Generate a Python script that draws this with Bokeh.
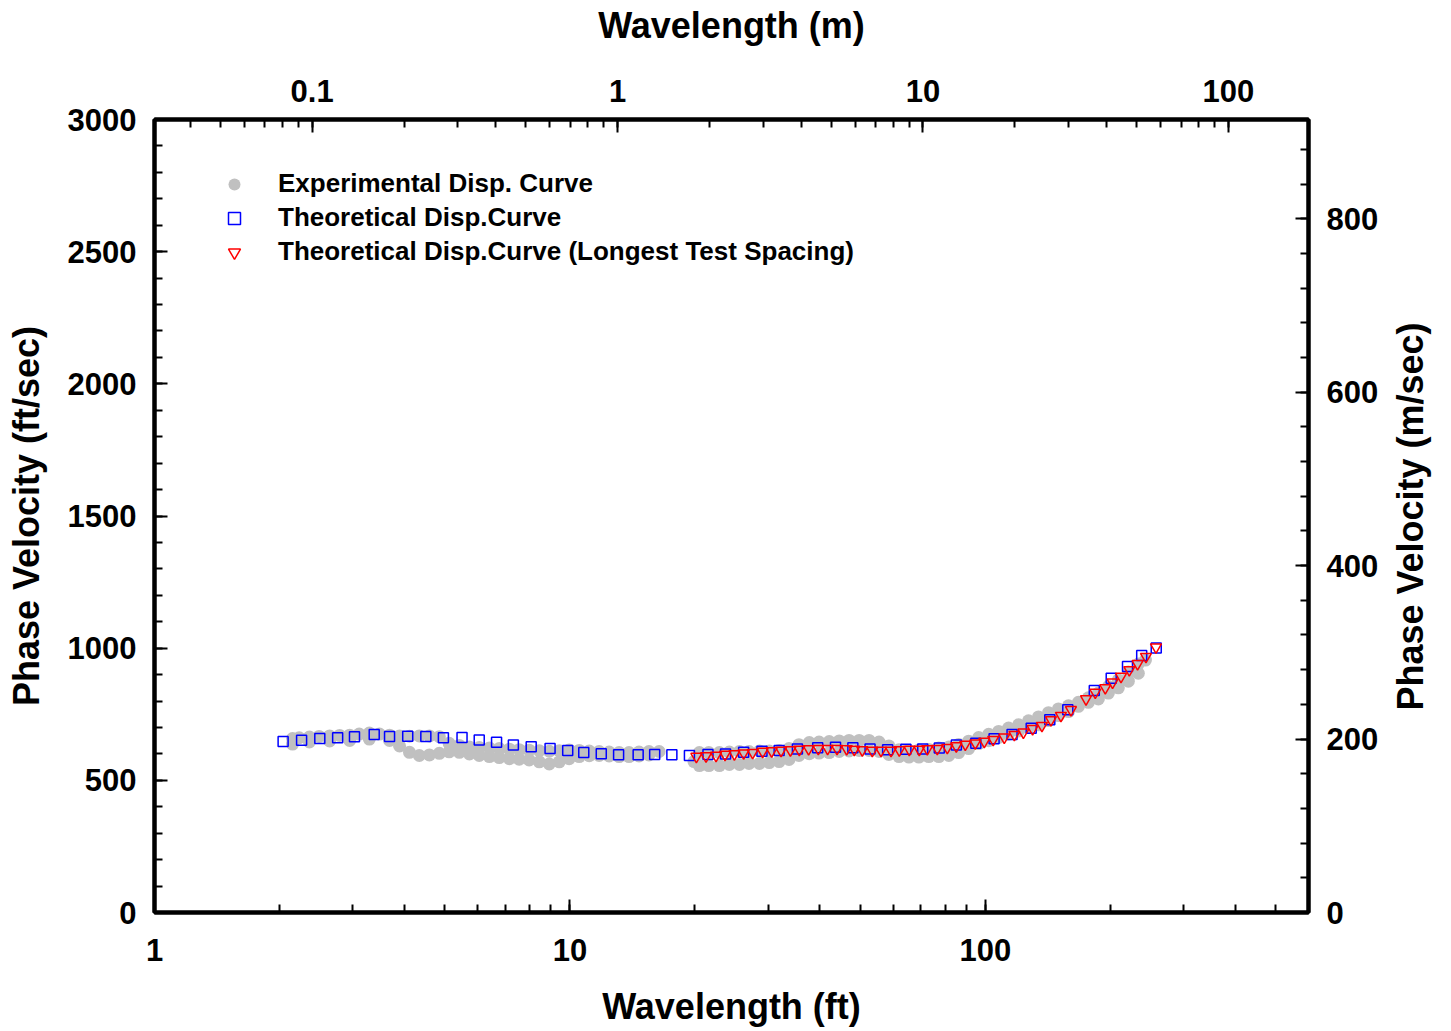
import math
from bokeh.plotting import figure
from bokeh.layouts import row
from bokeh.models import (Range1d, LogAxis, LinearAxis, LogScale, SingleIntervalTicker,
                          LogTicker, CustomJSTickFormatter, Legend, LegendItem, Label)
from bokeh.embed import file_html
from bokeh.resources import INLINE

# ---------------- data ----------------
# Experimental dispersion curve (gray band), wavelength ft / phase velocity ft/s
exp_a_top_x = [2.15, 2.23, 2.36, 2.49, 2.64, 2.79, 2.95, 3.11, 3.29, 3.48, 3.68, 3.89, 4.11, 4.34, 4.59, 4.85,
               5.12, 5.42, 5.73, 6.05, 6.40, 6.76, 7.15, 7.55, 7.98, 8.44, 8.92, 9.43, 9.96, 10.53, 11.13,
               11.76, 12.43, 13.14, 13.88, 14.67, 15.5, 16.4]
exp_a_top_v = [658, 661, 664, 666, 668, 670, 671, 675, 679, 675, 671, 668, 667, 668, 668, 665,
               640, 632, 626, 624, 622, 620, 618, 616, 614, 612, 610, 612, 615, 613, 611,
               609, 607, 605, 605, 607, 609, 609]
exp_a_bot_x = [2.15, 2.36, 2.64, 2.95, 3.29, 3.68, 3.89, 4.11, 4.34, 4.59, 4.85, 5.12, 5.42, 5.73, 6.05,
               6.40, 6.76, 7.15, 7.55, 7.98, 8.44, 8.92, 9.43, 9.96, 10.53, 11.13, 11.76, 12.43, 13.14,
               13.88, 14.67, 15.5]
exp_a_bot_v = [637, 645, 649, 651, 656, 651, 630, 606, 594, 596, 602, 608, 606, 600, 594,
               590, 586, 582, 580, 577, 570, 562, 570, 582, 590, 593, 594, 592, 590,
               590, 592, 596]
exp_b_top_x = [19.9, 20.5, 21.6, 22.9, 24.2, 25.6, 27.0, 28.6, 30.2, 31.9, 33.7, 35.6, 37.7, 39.8, 42.1,
               44.5, 47.0, 49.7, 52.5, 55.5, 58.6, 62.0, 65.5, 69.2, 73.1, 77.3, 81.7, 86.3, 91.2, 96.4,
               101.9, 107.7, 113.8, 120.3, 127.1, 134.3, 142, 150, 158.6, 167.6, 177.1, 187.2, 197.9,
               209.1, 221, 233.6, 243]
exp_b_top_v = [571, 605, 605, 605, 607, 609, 609, 611, 611, 613, 620, 635, 643, 645, 647,
               649, 651, 651, 651, 645, 630, 616, 613, 615, 617, 622, 626, 636, 648, 662,
               674, 685, 698, 710, 725, 740, 756, 770, 782, 795, 812, 830, 855,
               880, 910, 940, 955]
exp_b_bot_x = [20.5, 21.6, 22.9, 24.2, 25.6, 27.0, 28.6, 30.2, 31.9, 33.7, 35.6, 37.7, 39.8, 42.1, 44.5,
               47.0, 49.7, 52.5, 55.5, 58.6, 62.0, 65.5, 69.2, 73.1, 77.3, 81.7, 86.3, 91.2, 96.4, 101.9,
               107.7, 113.8, 120.3, 127.1, 134.3, 142, 150, 158.6, 167.6, 177.1, 187.2, 197.9, 209.1,
               221, 233.6]
exp_b_bot_v = [556, 556, 556, 560, 560, 564, 564, 567, 571, 579, 594, 601, 603, 605, 609,
               611, 613, 613, 609, 598, 590, 588, 588, 590, 590, 594, 605, 620, 639, 650,
               662, 675, 687, 700, 710, 726, 745, 760, 780, 795, 808, 830, 850,
               875, 905]

# Theoretical dispersion curve (blue squares)
theo_x = [2.04, 2.26, 2.50, 2.76, 3.03, 3.38, 3.68, 4.07, 4.50, 4.96, 5.50, 6.05, 6.66, 7.31, 8.07, 8.96,
          9.88, 10.8, 11.9, 13.1, 14.6, 16.0, 17.6, 19.4, 21.5, 23.7, 26.2, 29.0, 31.9, 35.3, 39.5, 43.6,
          48.0, 52.8, 58.2, 64.4, 70.7, 77.5, 85.2, 94.9, 105, 116, 129, 143, 158, 183, 201, 220, 238, 258]
theo_v = [647, 652, 658, 661, 665, 673, 666, 667, 666, 661, 662, 653, 644, 634, 627, 620,
          613, 605, 601, 597, 597, 598, 597, 594, 598, 600, 606, 610, 613, 619, 623, 625,
          623, 619, 616, 618, 619, 622, 634, 640, 657, 673, 697, 729, 767, 840, 886, 931, 972, 1001]

# Theoretical dispersion curve, longest test spacing (red triangles)
long_x = [20.16, 21.27, 22.48, 23.63, 24.89, 26.20, 27.54, 29.11, 30.60, 32.24, 33.95, 35.67, 37.56,
          39.63, 41.73, 43.97, 46.37, 48.38, 50.58, 53.46, 56.10, 59.31, 62.09, 65.63, 69.37, 72.51,
          76.64, 81.01, 85.16, 89.52, 94.61, 99.45, 104.5, 111.1, 117.5, 123.5, 130.0, 136.9, 143.9,
          152.1, 160.8, 174.8, 184.0, 194.5, 202.5, 212.2, 222.2, 232.6, 243.7, 257.6]
long_v = [590, 592, 594, 598, 600, 603, 605, 609, 611, 613, 615, 617, 619,
          620, 620, 620, 619, 617, 615, 613, 613, 613, 615, 617, 617, 619,
          620, 624, 630, 636, 641, 647, 654, 663, 673, 682, 695, 707, 729,
          745, 767, 808, 833, 850, 871, 893, 918, 941, 968, 1004]

series_labels = ["Experimental Disp. Curve", "Theoretical Disp.Curve",
                 "Theoretical Disp.Curve (Longest Test Spacing)"]
axis_titles = {"bottom": "Wavelength (ft)", "top": "Wavelength (m)",
               "left": "Phase Velocity (ft/sec)", "right": "Phase Velocity (m/sec)"}

x_range_ft = (1, 600)
y_range_fps = (0, 3000)
FT_TO_M = 0.3048
x_range_m = (0.1 * FT_TO_M, 600 * FT_TO_M)
y_range_ms = (0, 3000 * FT_TO_M)

FONT = "Liberation Sans"

exp_x = exp_a_top_x + exp_a_bot_x + exp_b_top_x + exp_b_bot_x
exp_v = exp_a_top_v + exp_a_bot_v + exp_b_top_v + exp_b_bot_v

# ---------------- main figure ----------------
W_MAIN, W_SIDE, H = 1388, 60, 1030
p = figure(width=W_MAIN, height=H, x_axis_type="log",
           x_range=Range1d(*x_range_ft), y_range=Range1d(*y_range_fps),
           output_backend="svg", toolbar_location=None,
           min_border_left=154, min_border_right=80, min_border_top=119, min_border_bottom=118)
p.xgrid.visible = False
p.ygrid.visible = False
p.outline_line_color = "black"
p.outline_line_width = 4
p.background_fill_color = "white"
p.border_fill_color = "white"

p.extra_x_ranges = {"m": Range1d(*x_range_m)}
p.extra_x_scales = {"m": LogScale()}
p.extra_y_ranges = {"ms": Range1d(*y_range_ms)}

num_fmt = CustomJSTickFormatter(code="return String(parseFloat(tick.toPrecision(6)));")

def style_axis(ax, label_standoff, axis_label_standoff=0):
    ax.axis_line_width = 4
    ax.axis_line_color = "black"
    ax.major_tick_in = 13
    ax.major_tick_out = 0
    ax.minor_tick_in = 8
    ax.minor_tick_out = 0
    ax.major_tick_line_width = 2
    ax.minor_tick_line_width = 2
    ax.major_tick_line_color = "black"
    ax.minor_tick_line_color = "black"
    ax.major_label_text_font = FONT
    ax.major_label_text_font_style = "bold"
    ax.major_label_text_font_size = "31px"
    ax.major_label_text_color = "black"
    ax.major_label_standoff = label_standoff
    ax.axis_label_text_font = FONT
    ax.axis_label_text_font_style = "bold"
    ax.axis_label_text_font_size = "36px"
    ax.axis_label_text_color = "black"
    ax.axis_label_standoff = axis_label_standoff

# bottom (ft)
xb = p.xaxis[0]
xb.ticker = LogTicker(num_minor_ticks=10)
xb.formatter = num_fmt
xb.axis_label = axis_titles["bottom"]
style_axis(xb, 26, 22)

# left (ft/sec)
yl = p.yaxis[0]
yl.ticker = SingleIntervalTicker(interval=500, num_minor_ticks=5)
yl.axis_label = axis_titles["left"]
style_axis(yl, 18, 18)

# top (m)
xt = LogAxis(x_range_name="m", ticker=LogTicker(num_minor_ticks=10), formatter=num_fmt,
             axis_label=axis_titles["top"])
style_axis(xt, 18, 31)
p.add_layout(xt, "above")

# right (m/sec)
yr = LinearAxis(y_range_name="ms", ticker=SingleIntervalTicker(interval=200, num_minor_ticks=5))
style_axis(yr, 18)
p.add_layout(yr, "right")

# ---------------- glyphs ----------------
r_exp = p.scatter(exp_x, exp_v, marker="circle", size=13, fill_color="#C0C0C0",
                  line_color=None)
r_theo = p.scatter(theo_x, theo_v, marker="square", size=10, fill_color=None,
                   line_color="#0000FF", line_width=1.5)
r_long = p.scatter(long_x, long_v, marker="inverted_triangle", size=11, fill_color=None,
                   line_color="#FF0000", line_width=1.5)

legend = Legend(items=[LegendItem(label=series_labels[0], renderers=[r_exp]),
                       LegendItem(label=series_labels[1], renderers=[r_theo]),
                       LegendItem(label=series_labels[2], renderers=[r_long])],
                location="top_left", margin=49, padding=0, glyph_width=62, glyph_height=30,
                label_height=30, spacing=3, label_standoff=13,
                label_text_font=FONT, label_text_font_style="bold", label_text_font_size="26px",
                label_text_color="black", border_line_alpha=0, background_fill_alpha=0)
p.add_layout(legend)

# ---------------- side strip holding the right-hand axis title ----------------
# (its frame is aligned with the main frame by the row layout)
side = figure(width=W_SIDE, height=H, x_range=Range1d(0, 1), y_range=Range1d(0, 1),
              output_backend="svg", toolbar_location=None, min_border=0)
side.axis.visible = False
side.xgrid.visible = False
side.ygrid.visible = False
side.outline_line_color = None
side.border_fill_color = "white"
side.background_fill_color = "white"
side.add_layout(Label(x=22, y=396, x_units="screen", y_units="screen",
                      text=axis_titles["right"], angle=math.pi / 2, angle_units="rad",
                      text_align="center", text_baseline="middle", text_font=FONT,
                      text_font_style="bold", text_font_size="36px", text_color="black"))

layout = row(p, side, spacing=0)
open("out.html", "w").write(file_html(layout, INLINE))
